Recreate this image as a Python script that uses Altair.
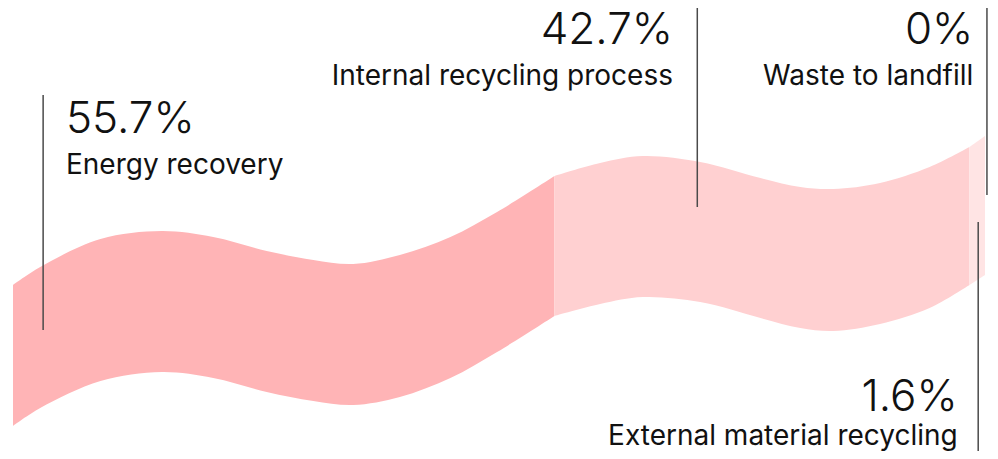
import altair as alt
import pandas as pd
import numpy as np

# ---- data ----
categories = ["Energy recovery", "Internal recycling process", "External material recycling", "Waste to landfill"]
values = [55.7, 42.7, 1.6, 0.0]
value_labels = ["55.7%", "42.7%", "1.6%", "0%"]
colors = ["#ffb4b6", "#ffd0d1", "#ffe4e4", "#ffffff"]

# wave outline: position along band (%), top edge, bottom edge (page px)
wave_pos = [0, 2.8, 9.0, 15.3, 20.6, 26.1, 30.9, 35.0, 39.8, 45.0, 49.8, 55.7,
            60.4, 64.8, 70.7, 76.9, 81.0, 84.4, 89.2, 94.3, 98.4, 100]
wave_top = [285, 267, 239, 231, 237, 251, 260, 264, 255, 237, 212, 176,
            163, 156, 162, 178, 187, 189, 183, 167, 147, 136]
wave_bot = [426, 408, 381, 372, 378, 392, 401, 405, 397, 378, 352, 316,
            304, 297, 302, 318, 328, 331, 324, 308, 285, 275]

xs = alt.Scale(domain=[-0.514, 100.514])
ys = alt.Scale(domain=[451, 8])

# ---- band segments ----
cum = np.concatenate([[0], np.cumsum(values)])
layers = []
for i, cat in enumerate(categories):
    a, b = cum[i], cum[i + 1]
    if b - a <= 0:
        continue
    seg = pd.DataFrame([
        {"p": float(p), "top": float(t), "bot": float(bt)}
        for p, t, bt in zip(wave_pos, wave_top, wave_bot)
        if a - 0.05 <= p <= b + 0.05
    ])
    layers.append(
        alt.Chart(seg).mark_area(interpolate="catmull-rom", color=colors[i], opacity=1).encode(
            x=alt.X("p:Q", scale=xs, axis=None),
            y=alt.Y("top:Q", scale=ys, axis=None),
            y2="bot:Q",
        )
    )

# ---- annotation layout ----
ann = pd.DataFrame({
    "cat": categories,
    "num": value_labels,
    "lx": [3.1, 70.4, 99.3, 100.2],
    "ly1": [95, 8, 222, 8],
    "ly2": [330, 207, 459, 195],
    "tx": [5.45, 67.9, 97.2, 98.8],
    "align": ["left", "right", "right", "right"],
    "ny": [133, 44, 411, 44],
    "cy": [174, 85, 445, 85],
})

layers.append(alt.Chart(ann).mark_rule(color="#4a4a4a", strokeWidth=1.5).encode(
    x=alt.X("lx:Q", scale=xs, axis=None),
    y=alt.Y("ly1:Q", scale=ys, axis=None),
    y2="ly2:Q",
))

for al in ["left", "right"]:
    sub = ann[ann["align"] == al]
    layers.append(alt.Chart(sub).mark_text(align=al, baseline="alphabetic", font="Inter",
                                           fontSize=44, fontWeight=300, color="#111111").encode(
        x=alt.X("tx:Q", scale=xs, axis=None), y=alt.Y("ny:Q", scale=ys, axis=None), text="num:N"))
    layers.append(alt.Chart(sub).mark_text(align=al, baseline="alphabetic", font="Inter",
                                           fontSize=28, fontWeight=400, color="#111111").encode(
        x=alt.X("tx:Q", scale=xs, axis=None), y=alt.Y("cy:Q", scale=ys, axis=None), text="cat:N"))

chart = alt.layer(*layers).properties(
    width=982, height=443, padding=0, autosize=alt.AutoSizeParams(type="none")
).configure_view(stroke=None)

chart.save("out.html", embed_options={"renderer": "svg", "actions": False})
